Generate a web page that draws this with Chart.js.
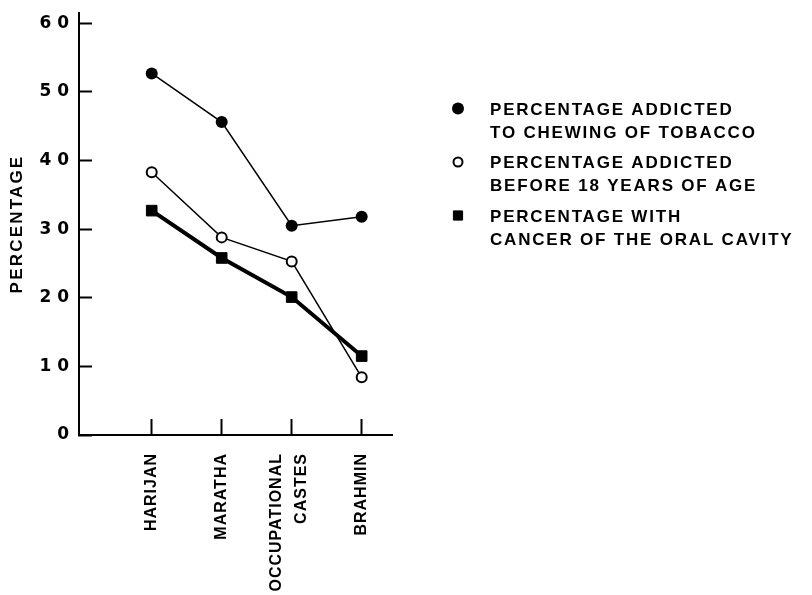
<!DOCTYPE html>
<html>
<head>
<meta charset="utf-8">
<script src="https://cdn.jsdelivr.net/npm/chart.js@4.4.1/dist/chart.umd.min.js"></script>
<style>
html,body{margin:0;padding:0;background:#fff}
#wrap{width:812px;height:595px}
</style>
</head>
<body>
<div id="wrap"><canvas id="c"></canvas></div>
<script>
// categories and values
const castes=["HARIJAN","MARATHA",["OCCUPATIONAL","CASTES"],"BRAHMIN"]
const catPos=[0,1,2,3]
const chewing=[52.7,45.6,30.5,31.8]
const before18=[38.3,28.8,25.3,8.4]
const cancer=[32.7,25.8,20.1,11.5]
const yTicks=[0,10,20,30,40,50,60]
const legendLines=[
  ["PERCENTAGE ADDICTED","TO CHEWING OF TOBACCO"],
  ["PERCENTAGE ADDICTED","BEFORE 18 YEARS OF AGE"],
  ["PERCENTAGE WITH","CANCER OF THE ORAL CAVITY"]
]

// the two-line label sits a bit left of its tick, as in the drawing
const OCC_LABEL_AT=1.79

const pts=a=>a.map((v,i)=>({x:catPos[i],y:v}))

function spaced(scale,fn,sp){
  if(scale["_"+fn])return
  const orig=scale[fn]
  scale["_"+fn]=orig
  scale[fn]=function(...a){
    const c=this.ctx,old=c.letterSpacing
    c.letterSpacing=sp
    orig.apply(this,a)
    c.letterSpacing=old
  }
}

const spacingPlugin={
  id:"spacing",
  afterLayout(chart){
    spaced(chart.scales.x,"drawLabels","1px")
    spaced(chart.scales.y,"drawTitle","2.2px")
  }
}

const sideLegend={
  id:"sideLegend",
  afterDraw(chart){
    const ctx=chart.ctx
    ctx.save()
    ctx.fillStyle="#000"
    ctx.strokeStyle="#000"
    ctx.font='bold 17px "Liberation Sans"'
    ctx.letterSpacing="1.8px"
    ctx.textBaseline="middle"
    ctx.textAlign="left"
    chart.data.datasets.forEach((ds,i)=>{
      const y0=110+i*53.5
      ctx.fillStyle=ds.pointBackgroundColor
      ctx.lineWidth=ds.pointBorderWidth
      Chart.helpers.drawPoint(ctx,{pointStyle:ds.pointStyle,radius:ds.legendRadius,borderWidth:ds.pointBorderWidth,rotation:0},458,y0-1.5)
      ctx.fillStyle="#000"
      legendLines[i].forEach((t,j)=>ctx.fillText(t,490,y0+j*23))
    })
    ctx.restore()
  }
}

new Chart(document.getElementById("c"),{
  type:"line",
  data:{datasets:[
    {label:legendLines[0].join(" "),data:pts(chewing),borderColor:"#000",borderWidth:1.5,
     pointStyle:"circle",pointRadius:6,pointBackgroundColor:"#000",pointBorderColor:"#000",pointBorderWidth:0,legendRadius:6},
    {label:legendLines[1].join(" "),data:pts(before18),borderColor:"#000",borderWidth:1.5,
     pointStyle:"circle",pointRadius:5,pointBackgroundColor:"#fff",pointBorderColor:"#000",pointBorderWidth:2,legendRadius:4.5},
    {label:legendLines[2].join(" "),data:pts(cancer),borderColor:"#000",borderWidth:4,
     pointStyle:"rect",pointRadius:7.5,pointBackgroundColor:"#000",pointBorderColor:"#000",pointBorderWidth:1,legendRadius:6.5}
  ]},
  options:{
    responsive:true,maintainAspectRatio:false,animation:false,
    layout:{padding:{left:0,top:13,right:420,bottom:0}},
    plugins:{legend:{display:false},tooltip:{enabled:false}},
    scales:{
      x:{
        type:"linear",min:-1.039,max:3.433,
        afterBuildTicks(s){s.ticks=[0,1,OCC_LABEL_AT,2,3].map(v=>({value:v}))},
        afterFit(s){s.height=160;s.paddingLeft=0;s.paddingRight=0},
        border:{display:true,color:"#000",width:2},
        grid:{drawOnChartArea:false,drawTicks:true,tickLength:-16,tickWidth:2,
          tickColor:c=>c.tick&&c.tick.value===OCC_LABEL_AT?"rgba(0,0,0,0)":"#000"},
        ticks:{autoSkip:false,minRotation:90,maxRotation:90,padding:34,color:"#000",
          font:{family:"Liberation Sans",size:16,weight:"bold",lineHeight:1.55},
          callback:v=>v===OCC_LABEL_AT?castes[2]:(v===2?"":castes[v])}
      },
      y:{
        min:0,max:61.5,
        afterBuildTicks(s){s.ticks=yTicks.map(v=>({value:v}))},
        afterFit(s){s.width=79;s.paddingTop=0;s.paddingBottom=0},
        border:{display:true,color:"#000",width:2},
        grid:{drawOnChartArea:false,drawTicks:true,tickLength:-13,tickWidth:2,tickColor:"#000"},
        ticks:{padding:23,color:"#000",font:{family:"DejaVu Sans",size:17,weight:"bold"},
          callback:v=>String(v).split("").join(" ")},
        title:{display:true,text:"PERCENTAGE",color:"#000",padding:{top:7,bottom:0},
          font:{family:"Liberation Sans",size:17,weight:"bold"}}
      }
    }
  },
  plugins:[spacingPlugin,sideLegend]
})
</script>
</body>
</html>
